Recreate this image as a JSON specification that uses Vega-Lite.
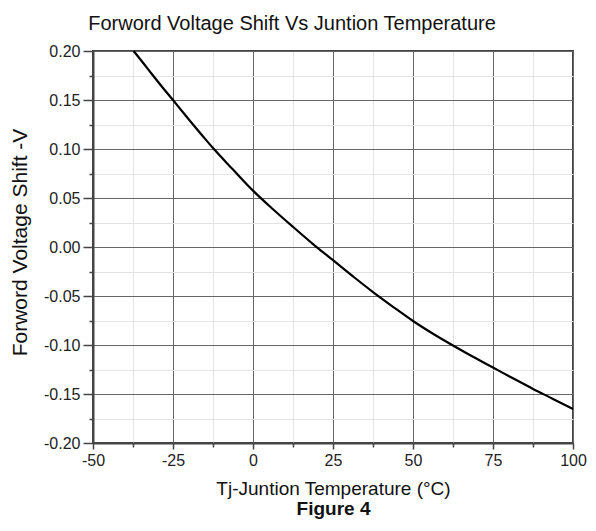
{
  "$schema": "https://vega.github.io/schema/vega-lite/v6.json",
  "width": 480,
  "height": 392,
  "autosize": {"type": "none"},
  "padding": {"left": 93, "top": 51, "right": 23, "bottom": 88},
  "background": "white",
  "title": {
    "text": "Forword Voltage Shift Vs Juntion Temperature",
    "anchor": "middle",
    "frame": "group",
    "dx": -41,
    "offset": 22,
    "dy": 29,
    "baseline": "alphabetic",
    "fontSize": 20,
    "font": "Liberation Sans",
    "fontWeight": "normal",
    "color": "#111"
  },
  "config": {
    "view": {"stroke": "#444", "strokeWidth": 2},
    "axis": {
      "labelFont": "Liberation Sans",
      "labelColor": "#222",
      "labelFlush": false,
      "titleFont": "Liberation Sans",
      "titleColor": "#111",
      "titleFontWeight": "normal",
      "domainColor": "#444",
      "domainWidth": 2,
      "tickColor": "#444",
      "tickWidth": 1.5
    }
  },
  "data": {
    "values": [
      {"t": -37.3, "v": 0.2},
      {"t": -34, "v": 0.1865},
      {"t": -31.25, "v": 0.175},
      {"t": -28, "v": 0.1618},
      {"t": -25, "v": 0.15},
      {"t": -21.9, "v": 0.1375},
      {"t": -18.75, "v": 0.125},
      {"t": -15.6, "v": 0.1128},
      {"t": -12.5, "v": 0.101},
      {"t": -6.25, "v": 0.079},
      {"t": 0, "v": 0.0575},
      {"t": 6.25, "v": 0.0385},
      {"t": 12.5, "v": 0.0205},
      {"t": 18.75, "v": 0.003},
      {"t": 25, "v": -0.0135},
      {"t": 31.25, "v": -0.03},
      {"t": 37.5, "v": -0.046},
      {"t": 43.75, "v": -0.061},
      {"t": 50, "v": -0.0755},
      {"t": 56.25, "v": -0.0885},
      {"t": 62.5, "v": -0.1005},
      {"t": 68.75, "v": -0.112},
      {"t": 75, "v": -0.123},
      {"t": 81.25, "v": -0.134},
      {"t": 87.5, "v": -0.1448},
      {"t": 93.75, "v": -0.155},
      {"t": 100, "v": -0.1653}
    ]
  },
  "layer": [
    {
      "mark": {"type": "line", "opacity": 0},
      "encoding": {
        "x": {
          "field": "t",
          "type": "quantitative",
          "scale": {"domain": [-50, 100], "nice": false},
          "axis": {
            "orient": "bottom",
            "values": [-37.5, -12.5, 12.5, 37.5, 62.5, 87.5],
            "labels": false,
            "domain": false,
            "tickSize": 4,
            "grid": true,
            "gridColor": "#e3e3e3",
            "gridWidth": 1,
            "title": "Figure 4",
            "titleFontWeight": "bold",
            "titleFontSize": 19,
            "titleBaseline": "alphabetic",
            "titleX": 240,
            "titleY": 71,
            "titleAnchor": "middle"
          }
        },
        "y": {
          "field": "v",
          "type": "quantitative",
          "scale": {"domain": [-0.2, 0.2], "nice": false},
          "axis": {
            "orient": "left",
            "values": [-0.175, -0.125, -0.075, -0.025, 0.025, 0.075, 0.125, 0.175],
            "labels": false,
            "domain": false,
            "tickSize": 4,
            "grid": true,
            "gridColor": "#e3e3e3",
            "gridWidth": 1,
            "title": null
          }
        }
      }
    },
    {
      "mark": {"type": "line", "color": "#000", "strokeWidth": 2.2, "interpolate": "monotone"},
      "encoding": {
        "x": {
          "field": "t",
          "type": "quantitative",
          "scale": {"domain": [-50, 100], "nice": false},
          "axis": {
            "orient": "bottom",
            "values": [-50, -25, 0, 25, 50, 75, 100],
            "labelExpr": "replace(format(datum.value, 'd'), '\u2212', '-')",
            "labelFontSize": 16,
            "tickSize": 6,
            "labelPadding": 3,
            "grid": true,
            "gridColor": "#666",
            "gridWidth": 1,
            "title": "Tj-Juntion Temperature (°C)",
            "titleFontSize": 19,
            "titleBaseline": "alphabetic",
            "titleX": 240,
            "titleY": 51,
            "titleAnchor": "middle"
          }
        },
        "y": {
          "field": "v",
          "type": "quantitative",
          "scale": {"domain": [-0.2, 0.2], "nice": false},
          "axis": {
            "orient": "left",
            "values": [-0.2, -0.15, -0.1, -0.05, 0, 0.05, 0.1, 0.15, 0.2],
            "labelExpr": "replace(format(datum.value, '.2f'), '\u2212', '-')",
            "labelFontSize": 16,
            "tickSize": 10,
            "labelPadding": 3,
            "grid": true,
            "gridColor": "#666",
            "gridWidth": 1,
            "title": "Forword Voltage Shift -V",
            "titleFontSize": 21,
            "titlePadding": 13,
            "titleY": 191,
            "titleAnchor": "middle"
          }
        }
      }
    }
  ],
  "resolve": {"axis": {"x": "independent", "y": "independent"}}
}
